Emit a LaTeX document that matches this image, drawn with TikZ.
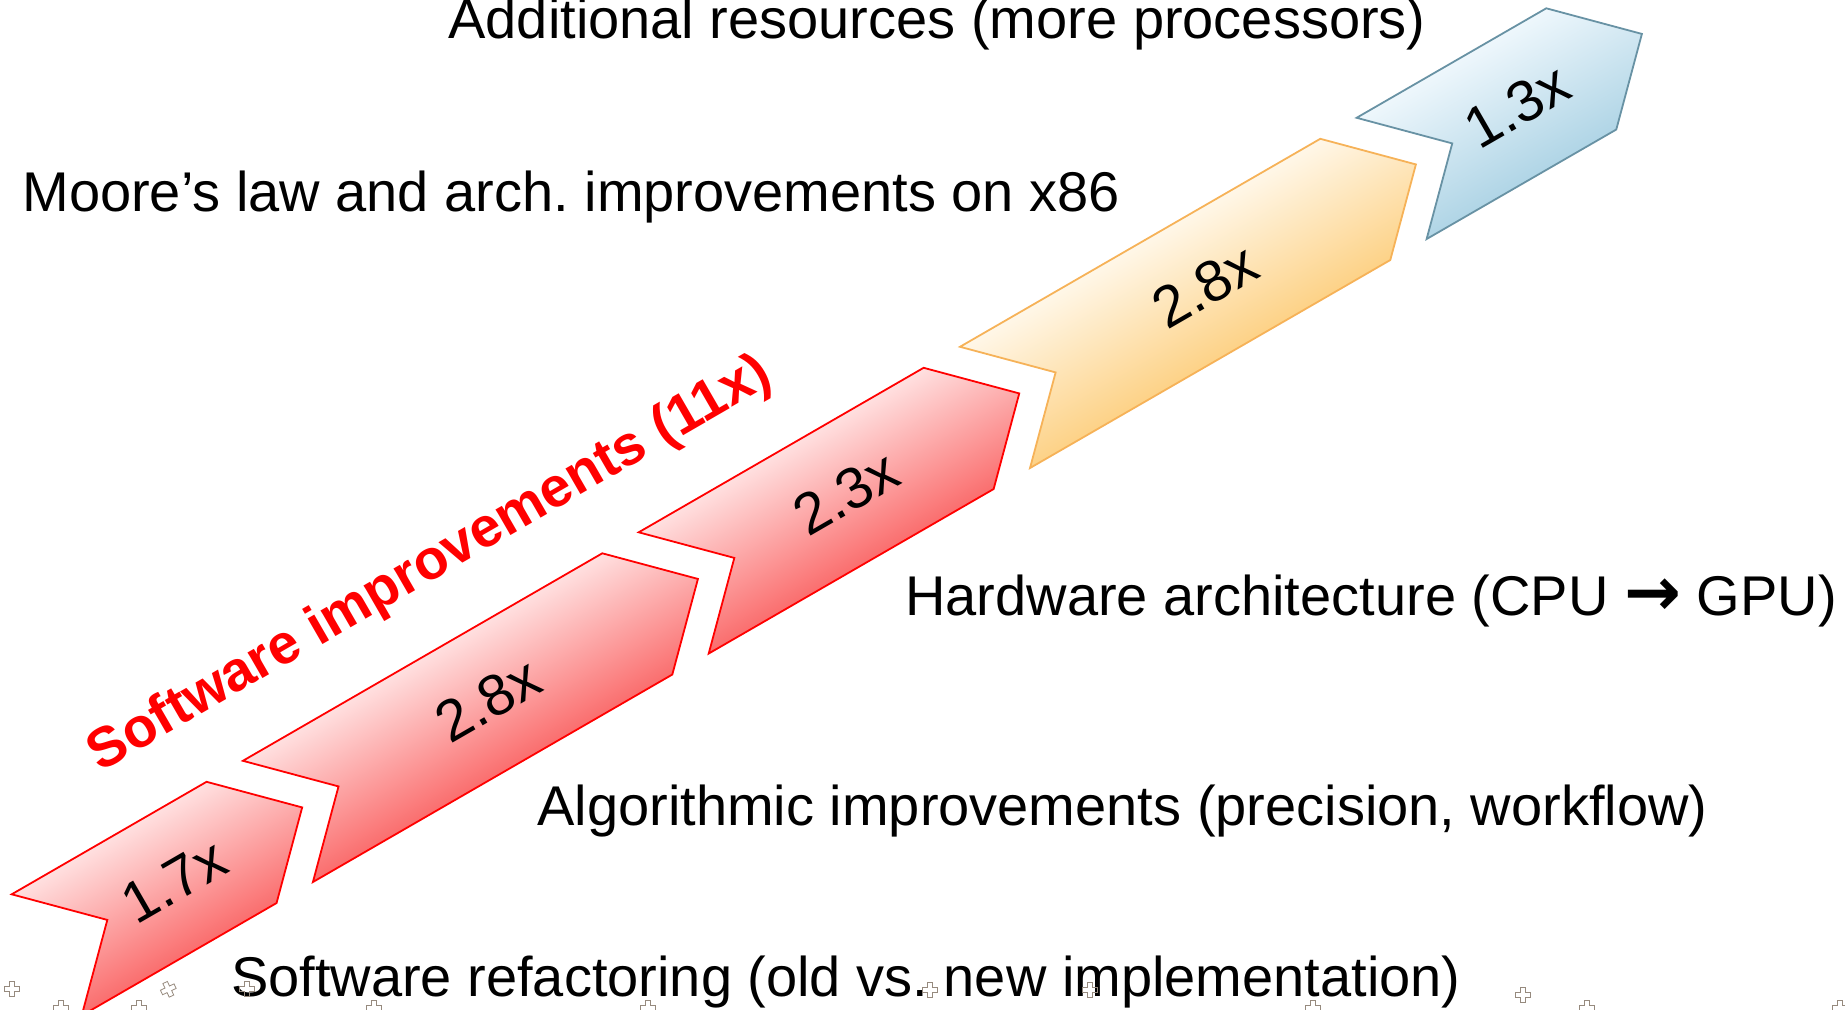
\documentclass[tikz,border=0pt]{standalone}
\usepackage{fontspec}
\setmainfont{Liberation Sans}
\newfontfamily\arrowfnt{DejaVu Sans}
\usetikzlibrary{calc}
\frenchspacing

\definecolor{redlight}{RGB}{255,224,224}
\definecolor{reddark}{RGB}{250,110,110}
\definecolor{redline}{RGB}{255,0,0}
\definecolor{orlight}{RGB}{255,247,232}
\definecolor{ordark}{RGB}{253,210,135}
\definecolor{orline}{RGB}{246,178,88}
\definecolor{bllight}{RGB}{238,247,252}
\definecolor{bldark}{RGB}{176,213,230}
\definecolor{blline}{RGB}{104,146,164}
\definecolor{markgray}{RGB}{150,138,126}

% chevron: #1 back-top corner, #2 length, #3 light fill, #4 dark fill, #5 outline
\newcommand\drawchevron[5]{%
  \begin{scope}[transform canvas={shift={#1},rotate=30}]
    \shade[top color=#3, bottom color=#4, draw=#5, line width=0.9pt, line join=miter]
      (0,0) -- ({#2-70},0) -- (#2,70) -- ({#2-70},140) -- (0,140) -- (70,70) -- cycle;
  \end{scope}}

\tikzset{
  maintext/.style={anchor=base west, inner sep=0pt, font=\fontsize{28}{32}\selectfont},
  factor/.style={rotate=30, inner sep=0pt, font=\fontsize{29}{32}\selectfont},
  plusmark/.pic={\draw[markgray, line width=0.4pt]
    (-2.5,-7.5) -- (2.5,-7.5) -- (2.5,-2.5) -- (7.5,-2.5) -- (7.5,2.5) -- (2.5,2.5)
    -- (2.5,7.5) -- (-2.5,7.5) -- (-2.5,2.5) -- (-7.5,2.5) -- (-7.5,-2.5) -- (-2.5,-2.5) -- cycle;}
}

\begin{document}
\begin{tikzpicture}[x=0.5pt, y=-0.5pt]
\useasboundingbox (0,0) rectangle (1845,1010);

% back-top corners of the five chevrons, all on one line at 30 degrees
\coordinate (k1) at (11.7,894.3);
\coordinate (k2) at (242.9,760.8);
\coordinate (k3) at (638.7,532.3);
\coordinate (k4) at (960.0,346.8);
\coordinate (k5) at (1356.6,117.8);

\drawchevron{(k1)}{295}{redlight}{reddark}{redline}
\drawchevron{(k2)}{485}{redlight}{reddark}{redline}
\drawchevron{(k3)}{399}{redlight}{reddark}{redline}
\drawchevron{(k4)}{486}{orlight}{ordark}{orline}
\drawchevron{(k5)}{289}{bllight}{bldark}{blline}

% speed-up factors on the chevrons
\node[factor] (f1) at ($(k1)+(-30:147.5)+(60:70)$) {1.7x};
\node[factor] (f2) at ($(k2)+(-30:242.5)+(60:70)$) {2.8x};
\node[factor] (f3) at ($(k3)+(-30:199.5)+(60:70)$) {2.3x};
\node[factor] (f4) at ($(k4)+(-30:243)+(60:70)$) {2.8x};
\node[factor] (f5) at ($(k5)+(-30:144.5)+(60:70)$) {1.3x};

% captions
\node[maintext] (t5) at (448,38.3) {Additional resources (more processors)};
\node[maintext] (t4) at (22,212) {Moore’s law and arch. improvements on x86};
\node[maintext] (t3) at (905,615)
  {Hardware architecture (CPU {\arrowfnt\bfseries\fontsize{34}{36}\selectfont →} GPU)};
\node[maintext] (t2) at (537,825) {Algorithmic improvements (precision, workflow)};
\node[maintext] (t1) at (230.7,996) {Software refactoring (old vs. new implementation)};

\node[rotate=30, inner sep=0pt, text=redline, font=\bfseries\fontsize{28}{30}\selectfont]
  (sw) at (430.6,565) {Software improvements (11x)};

% small placement marks along the bottom edge
\foreach \px/\py/\rot in {11.7/989.3/0, 168.3/989.3/25, 61/1007.7/0, 139/1007.7/0,
    247.3/989.3/0, 374/1007.7/0, 648.3/1007.7/0, 930/990/0, 1090/990/0,
    1313.3/1007.7/0, 1522.7/995/0, 1587.3/1007.7/0, 1840/1007.7/0}
  \pic[rotate=\rot] at (\px,\py) {plusmark};
\end{tikzpicture}
\end{document}
